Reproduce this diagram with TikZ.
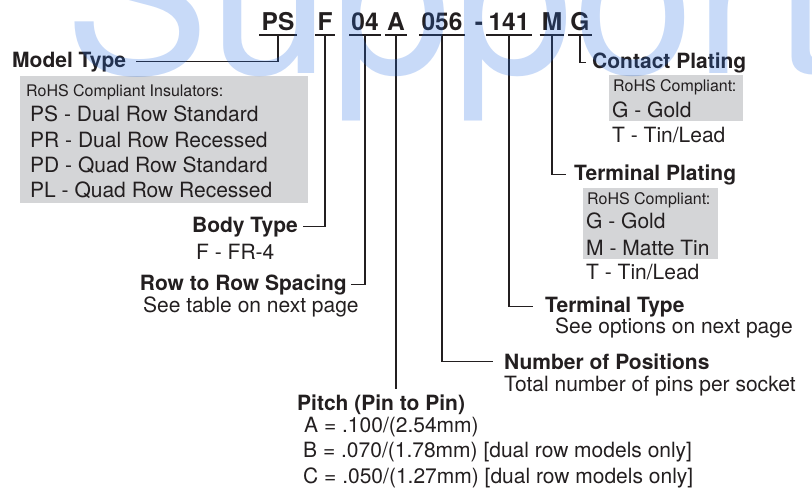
\documentclass[tikz,border=0pt]{standalone}
\usepackage{fontspec}
\setmainfont{TeX Gyre Heros}
\usepackage{tikz}
\usetikzlibrary{positioning}
\definecolor{ink}{RGB}{35,31,32}
\definecolor{boxgray}{RGB}{212,213,215}
\definecolor{wmblue}{RGB}{35,107,227}

\begin{document}
\begin{tikzpicture}[x=1pt,y=-1pt,color=ink,
  code/.style={font=\fontsize{24.5}{28}\selectfont\bfseries,anchor=base,inner xsep=2pt,inner ysep=5pt,text depth=0pt},
  lbl/.style={font=\fontsize{21}{25}\selectfont\bfseries,inner sep=0pt},
  txt/.style={font=\fontsize{21}{25}\selectfont,inner sep=0pt,anchor=base west},
  sml/.style={font=\fontsize{16}{19}\selectfont,inner sep=0pt,anchor=base west},
  gbox/.style={fill=boxgray,inner sep=0pt,anchor=north west},
  ld/.style={line width=1.5pt},
  ul/.style={line width=2.3pt},
  wmark/.style={font=\fontsize{218}{218}\selectfont,text=wmblue,text opacity=0.25,anchor=base west,inner sep=0pt}]
  \useasboundingbox (0,0) rectangle (812,488);
  % part number row
  \node[code](ps) at (278,30){PS};
  \node[code](f) at (325,30){F};
  \node[code](n04) at (365,30){04};
  \node[code](a) at (396,30){A};
  \node[code](n056) at (442,30){056};
  \node[code](dash) at (479,30){-};
  \node[code](n141) at (509,30){141};
  \node[code](m) at (552,30){M};
  \node[code](g) at (580,30){G};
  \foreach \n in {ps,f,n04,a,n056,n141,m,g}
    \draw[ul](\n.south west)--(\n.south east);
  % left side: model, body, spacing
  \node[lbl,anchor=base west](mt) at (12,67){Model Type};
  \node[gbox,minimum width=288pt,minimum height=127pt](insbox) at (20,76){};
  \node[sml](ins) at (26,96){RoHS Compliant Insulators:};
  \node[txt](mps) at (30,121){PS - Dual Row Standard};
  \node[txt](mpr) at (30,147){PR - Dual Row Recessed};
  \node[txt](mpd) at (30,172){PD - Quad Row Standard};
  \node[txt](mpl) at (30,197){PL - Quad Row Recessed};
  \node[lbl,anchor=base east](bt) at (298,232){Body Type};
  \node[txt](fr4) at (196,259){F - FR-4};
  \node[lbl,anchor=base east](rr) at (347,290){Row to Row Spacing};
  \node[txt](stbl) at (143,312){See table on next page};
  % pitch
  \node[lbl,anchor=base west](pitch) at (297,410){Pitch (Pin to Pin)};
  \node[txt](pa) at (304,432){A = .100/(2.54mm)};
  \node[txt](pb) at (303,457){B = .070/(1.78mm) [dual row models only]};
  \node[txt](pc) at (303,483){C = .050/(1.27mm) [dual row models only]};
  % right side: positions, terminal, plating
  \node[lbl,anchor=base west](np) at (504,369){Number of Positions};
  \node[txt](tot) at (504,391){Total number of pins per socket};
  \node[lbl,anchor=base west](tt) at (545,312){Terminal Type};
  \node[txt](sopt) at (555,333){See options on next page};
  \node[lbl,anchor=base west](tp) at (574,180){Terminal Plating};
  \node[gbox,minimum width=135pt,minimum height=71pt](tpbox) at (583,188){};
  \node[sml](tprohs) at (587,204){RoHS Compliant:};
  \node[txt](tpg) at (586,228){G - Gold};
  \node[txt](tpm) at (586,255){M - Matte Tin};
  \node[txt](tpt) at (586,279){T - Tin/Lead};
  \node[lbl,anchor=base west](cp) at (592,68){Contact Plating};
  \node[gbox,minimum width=134pt,minimum height=46pt](cpbox) at (609,75){};
  \node[sml](cprohs) at (613,91){RoHS Compliant:};
  \node[txt](cpg) at (612,117){G - Gold};
  \node[txt](cpt) at (612,142){T - Tin/Lead};
  % leaders
  \draw[ld](ps.south)|-([xshift=10pt]mt.east);
  \draw[ld](f.south)|-([xshift=5pt]bt.east);
  \draw[ld](n04.south)|-([xshift=4pt]rr.east);
  \draw[ld](a.south)--([yshift=5pt]a.south|-pitch.north);
  \draw[ld](n056.south)|-([xshift=-11pt]np.west);
  \draw[ld](n141.south)|-([xshift=-12pt]tt.west);
  \draw[ld](m.south)|-([xshift=-8pt]tp.west);
  \draw[ld](g.south)|-([xshift=-6pt]cp.west);
  % watermark
  \node[wmark](wm) at (64,73){Support};
\end{tikzpicture}
\end{document}
